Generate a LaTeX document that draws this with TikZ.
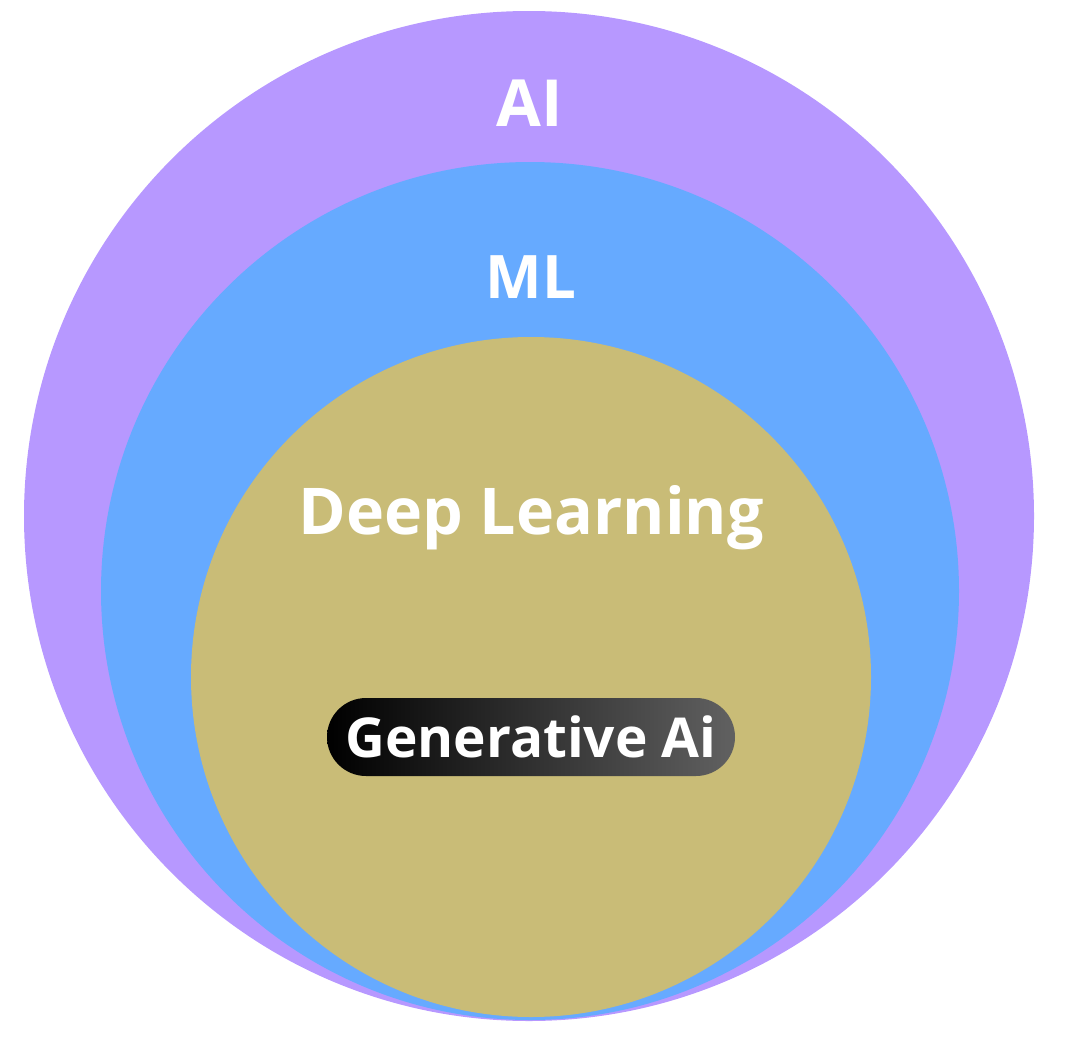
\documentclass[tikz,border=0pt]{standalone}
\usepackage{fontspec}
\setmainfont{Open Sans}
\usetikzlibrary{positioning}
\usetikzlibrary{shapes}
\definecolor{aipurple}{HTML}{B798FF}
\definecolor{mlblue}{HTML}{66AAFF}
\definecolor{dltan}{HTML}{C9BC77}
\begin{document}
\begin{tikzpicture}[x=1pt,y=-1pt,
                set/.style={circle, inner sep=0pt, draw=none},
                lbl/.style={text=white, font=\bfseries, inner sep=0pt},
                pill/.style={rounded corners=39pt, minimum width=408pt, minimum height=78pt,
                    shading=axis, left color=black, right color=black!62!white, text=white,
                    font=\bfseries, inner sep=0pt}]
            \useasboundingbox (0,0) rectangle (1065,1036);
            \node[set, fill=aipurple, minimum size=1010pt] (ai) at (529,516) {};
            \node[set, fill=mlblue, minimum size=858pt] (ml) at (530,591) {};
            \node[set, fill=dltan, minimum size=680pt] (dl) at (531,677) {};

            \node[lbl, font=\fontsize{65}{72}\bfseries] (ailbl) at (530,103) {AI};
            \node[lbl, font=\fontsize{60}{66}\bfseries] (mllbl) at (531,277) {ML};
            \node[lbl, font=\fontsize{64.5}{72}\bfseries] (dllbl) at (531,518) {Deep Learning};
            \node[pill] (gen) at (531,737) {\fontsize{55}{62}\selectfont\bfseries Generative Ai};
        \end{tikzpicture}
\end{document}
